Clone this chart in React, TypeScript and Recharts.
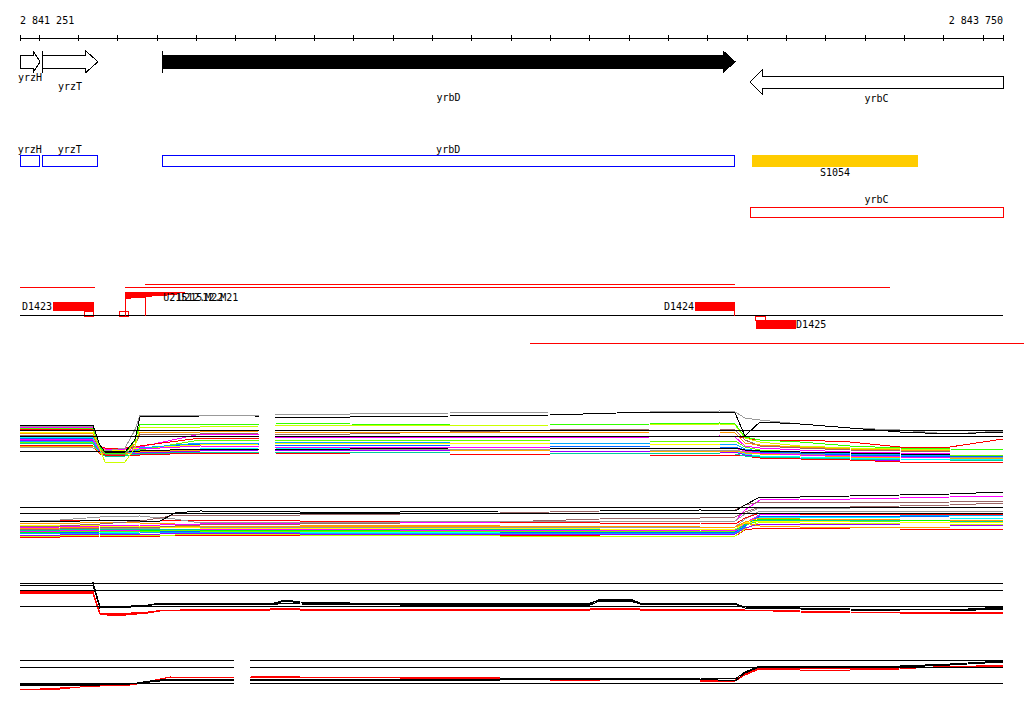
import React from 'react';
import {
  ComposedChart,
  XAxis,
  YAxis,
  Line,
  Area,
  ReferenceArea,
  ReferenceLine,
  ReferenceDot,
} from 'recharts';

// ---------- view window (genome coordinates, bp) ----------
const VIEW_START = 2841251;
const VIEW_END = 2843750;
const AXIS_TICKS = [
  2841251, 2841300, 2841400, 2841500, 2841600, 2841700, 2841800, 2841900, 2842000,
  2842100, 2842200, 2842300, 2842400, 2842500, 2842600, 2842700, 2842800, 2842900,
  2843000, 2843100, 2843200, 2843300, 2843400, 2843500, 2843600, 2843700, 2843750,
];

// ---------- track 1 : genes ----------
const GENES = [
  { name: 'yrzH', start: 2841251, end: 2841302, strand: 1 },
  { name: 'yrzT', start: 2841307, end: 2841449, strand: 1 },
  { name: 'yrbD', start: 2841612, end: 2843069, strand: 1 },
  { name: 'yrbC', start: 2843107, end: 2843750, strand: -1 },
];
const HIGHLIGHTED_GENE = 'yrbD';

// ---------- track 2/3 : annotation boxes ----------
const CDS_BOXES = [
  { name: 'yrzH', start: 2841251, end: 2841301 },
  { name: 'yrzT', start: 2841307, end: 2841448 },
  { name: 'yrbD', start: 2841612, end: 2843067 },
];
const SITES = [{ name: 'S1054', start: 2843112, end: 2843534 }];
const OPERONS = [{ name: 'yrbC', start: 2843107, end: 2843750 }];

// ---------- track 4 : tiling / segments ----------
const READ_SPANS = [
  { start: 2841251, end: 2841442, row: 'r287' },
  { start: 2841518, end: 2843463, row: 'r287' },
  { start: 2841569, end: 2843069, row: 'r284' },
  { start: 2842547, end: 2843803, row: 'r343' },
];
const SEGMENTS = [
  { name: 'D1423', start: 2841335, end: 2841439, side: 'left', row: 'up' },
  { name: 'D1424', start: 2842967, end: 2843069, side: 'left', row: 'up' },
  { name: 'D1425', start: 2843122, end: 2843224, side: 'right', row: 'down' },
];
const SMALL_MARKS = [
  { start: 2841416, end: 2841439, row: 'up' },
  { start: 2841505, end: 2841526, row: 'up' },
  { start: 2843120, end: 2843145, row: 'down' },
];
const TICK_MARKS = [
  { at: 2841518, row: 'tall' },
  { at: 2841569, row: 'mid' },
  { at: 2843068, row: 'short' },
];
const WEDGE_POS = [2841518, 2841533, 2841569, 2841587, 2841625, 2841650, 2841670];
const WEDGE_LOW = [299, 298, 297, 296, 295, 293, 292];
const WEDGE_HIGH = [292, 292, 292, 292, 292, 292, 292];
const PROBE_LABELS = [
  { name: 'U21512.M22', at: 2841615 },
  { name: 'U21512.M21', at: 2841653 },
];

// ---------- expression tracks ----------
const N = null;

const T5_POS = [
  2841251, 2841437, 2841454, 2841467, 2841518, 2841543, 2841556, 2841709, 2841858, 2841878,
  2841899, 2842090, 2842344, 2842598, 2842853, 2843031, 2843069, 2843094, 2843132, 2843234,
  2843361, 2843488, 2843615, 2843750,
];
const T5_VALUES: (number | null)[][] = [
  [438, 439, 451, 452, 452, 450, 449, 444, 445, N, 445, 445, 446, 446, 447, 447, 447, 450, 452, 453, 455, 456, 457, 456],
  [437, 438, 452, 454, 454, 452, 452, 449, 448, N, 448, 449, 450, 451, 451, 452, 452, 454, 456, 457, 458, 459, 460, 459],
  [440, 441, 452, 454, 454, 453, 453, 451, 450, N, 450, 450, 451, 451, 452, 452, 452, 455, 457, 458, 460, 461, 461, 460],
  [432, 433, 448, 450, 450, 448, 448, 445, 444, N, 443, 443, 443, 444, 444, 444, 444, 449, 451, 452, 453, 454, 455, 455],
  [442, 443, 452, 455, 455, 451, 450, 440, 440, N, 440, 440, 440, 441, 441, 441, 441, 447, 450, 452, 454, 455, 455, 455],
  [447, 448, 452, 452, 452, 452, 452, 450, 449, N, 449, 449, 449, 450, 450, 450, 450, 452, 453, 454, 456, 457, 457, 457],
  [445, 446, 454, 455, 455, 455, 455, 453, 453, N, 453, 454, 454, 455, 455, 455, 455, 456, 458, 459, 460, 462, 462, 462],
  [443, 444, 453, 456, 456, 454, 454, 452, 452, N, 452, 452, 453, 453, 453, 454, 454, 456, 457, 458, 459, 460, 460, 460],
  [446, 446, 453, 454, 454, 452, 452, 450, 449, N, 449, 450, 450, 451, 451, 451, 451, 453, 454, 455, 457, 458, 458, 458],
  [439, 440, 451, 453, 453, 449, 449, 446, 447, N, 447, 447, 447, 448, 448, 448, 448, 451, 453, 455, 456, 457, 458, 458],
  [441, 442, 452, 453, 453, 452, 448, 443, 443, N, 442, 442, 443, 443, 444, 444, 444, 449, 451, 452, 454, 455, 456, 456],
  [451, 451, 452, 451, 451, 451, 451, 449, 449, N, 449, 449, 448, 448, 448, 448, 448, 450, 451, 452, 453, 454, 455, 455],
  [427, 428, 448, 449, 449, 447, 447, 434, 434, N, 437, 437, 437, 438, 437, 436, 437, 446, 448, 450, 452, 453, 454, 454],
  [429, 430, 447, 448, 448, 447, 446, 438, 438, N, 436, 436, 436, 436, 436, 436, 436, 438, 440, 440, 442, 447, 447, 439],
  [435, 436, 450, 454, 454, 446, 434, 434, 433, N, 434, 434, 432, 430, 429, 429, 430, 440, 446, 448, 450, 451, 452, 452],
  [433, 434, 450, 452, 452, 444, 432, 432, 431, N, 432, 432, 432, 433, 432, 432, 433, 443, 445, 447, 449, 450, 451, 451],
  [430, 431, 449, 462, 462, 448, 427, 427, 426, N, 425, 425, 426, 425, 425, 424, 425, 438, 442, 446, 448, 449, 450, 450],
  [428, 429, 447, 453, 453, 441, 424, 424, 424, N, 423, 424, 425, 425, 424, 423, 424, 437, 440, 442, 446, 448, 449, 450],
  [426, 427, 446, 451, 448, 430, 415, 415, 415, N, 414, 414, 413, 412, 412, 411, 412, 418, 420, 424, 428, 430, 434, 431],
  [425, 426, 445, 452, 452, 440, 417, 416, 416, N, 417, 417, 416, 415, 412, 412, 413, 436, 422, 424, 428, 432, 434, 432],
];
const T5_COLORS = [
  '#0066ff', '#00ffff', '#9900ff', '#ffff00', '#66ff00', '#999999', '#ff0000', '#00cc99', '#ffaa00', '#ff00ff',
  '#00aaff', '#000000', '#ff00ff', '#ff0000', '#996666', '#ff9900', '#ccff00', '#33ff00', '#999999', '#000000',
];
const T5_GAP = [2841858, 2841899];
const T5_GUIDES = [430.5, 436.5];

const T6_POS = [
  2841251, 2841353, 2841454, 2841556, 2841607, 2841645, 2841709, 2841963, 2842217, 2842471,
  2842725, 2842980, 2843069, 2843094, 2843132, 2843234, 2843361, 2843488, 2843615, 2843750,
];
const T6_VALUES: number[][] = [
  [537, 537, 536, 536, 536, 535, 535, 535, 535, 535, 536, 536, 536, 530, 528, 528, 529, 529, 529, 529],
  [536, 536, 535, 535, 535, 535, 534, 535, 535, 536, 536, 536, 536, 529, 522, 523, 523, 524, 524, 524],
  [535, 535, 534, 534, 534, 533, 533, 534, 534, 534, 535, 534, 534, 528, 524, 524, 524, 525, 525, 525],
  [534, 533, 533, 532, 532, 532, 531, 532, 532, 532, 532, 533, 533, 525, 517, 517, 517, 518, 518, 518],
  [533, 533, 532, 531, 531, 531, 532, 531, 531, 532, 532, 532, 532, 526, 516, 516, 516, 517, 516, 516],
  [533, 534, 533, 533, 532, 532, 532, 533, 533, 533, 533, 533, 533, 527, 514, 514, 515, 515, 515, 515],
  [532, 532, 531, 530, 530, 530, 530, 530, 530, 531, 531, 531, 531, 524, 519, 519, 520, 520, 521, 521],
  [532, 531, 531, 531, 531, 530, 531, 531, 531, 531, 531, 531, 531, 525, 521, 521, 521, 522, 522, 522],
  [531, 531, 530, 530, 529, 529, 530, 529, 530, 530, 530, 530, 531, 523, 515, 514, 514, 515, 514, 513],
  [530, 530, 529, 529, 529, 529, 529, 528, 529, 529, 529, 529, 530, 525, 520, 520, 520, 521, 521, 521],
  [529, 529, 528, 528, 528, 527, 527, 527, 527, 527, 527, 527, 527, 519, 511, 511, 511, 511, 511, 511],
  [528, 528, 527, 527, 527, 527, 526, 526, 526, 526, 526, 527, 527, 523, 526, 527, 527, 527, 528, 528],
  [525, 525, 526, 526, 527, 527, 528, 528, 528, 528, 529, 529, 529, 523, 521, 521, 522, 522, 523, 522],
  [523, 524, 522, 523, 523, 524, 524, 525, 525, 526, 526, 527, 527, 522, 518, 519, 519, 520, 520, 520],
  [521, 521, 520, 521, 521, 520, 520, 521, 521, 522, 523, 523, 524, 518, 513, 514, 514, 514, 514, 515],
  [530, 529, 528, 527, 527, 526, 525, 524, 523, 522, 519, 518, 517, 512, 507, 507, 507, 506, 505, 503],
  [528, 527, 526, 525, 525, 524, 524, 523, 522, 522, 521, 521, 521, 510, 500, 499, 499, 498, 497, 496],
  [527, 526, 524, 521, 518, 515, 515, 515, 514, 513, 511, 510, 510, 505, 502, 502, 502, 503, 502, 501],
  [522, 520, 517, 516, 518, 519, 523, 522, 522, 521, 521, 521, 521, 514, 508, 508, 508, 507, 507, 507],
  [521, 522, 520, 521, 521, 513, 511, 512, 512, 511, 511, 510, 511, 505, 497, 497, 496, 495, 494, 492],
];
const T6_COLORS = [
  '#ff0000', '#ccff00', '#9900ff', '#00ffff', '#0066ff', '#00aaff', '#00ff00', '#66ff00', '#ff00ff', '#00cc99',
  '#999999', '#ff9900', '#ffff00', '#ff9900', '#ff0000', '#996666', '#ff00ff', '#996666', '#999999', '#000000',
];
const T6_GUIDES = [507.5, 513.5];

const T7_POS = [
  2841251, 2841437, 2841454, 2841493, 2841576, 2841607, 2841709, 2841887, 2841925, 2841963,
  2842217, 2842471, 2842700, 2842725, 2842802, 2842827, 2843069, 2843094, 2843234, 2843361,
  2843488, 2843615, 2843750,
];
const T7_VALUES: number[][] = [
  [591, 592, 613, 615, 613, 610, 610, 610, 608, 609, 610, 610, 610, 609, 608, 609, 609, 610, 611, 612, 613, 613, 612],
  [593, 594, 614, 616, 613, 611, 610, 610, 609, 610, 610, 610, 610, 609, 609, 610, 610, 610, 612, 613, 613, 614, 613],
  [592, 593, 613, 614, 612, 611, 609, 609, 608, 609, 609, 609, 609, 608, 608, 609, 609, 610, 611, 612, 612, 613, 612],
  [583, 584, 607, 607, 605, 603, 603, 605, 601, 603, 604, 604, 604, 599, 599, 603, 603, 608, 608, 609, 610, 610, 608],
  [585, 586, 608, 607, 605, 604, 604, 605, 603, 604, 605, 605, 605, 601, 601, 604, 604, 608, 609, 610, 611, 611, 609],
  [584, 583, 606, 608, 606, 603, 603, 604, 600, 602, 604, 603, 603, 600, 600, 603, 604, 607, 608, 609, 609, 610, 607],
];
const T7_COLORS = ['#ff0000', '#ff0000', '#ff0000', '#000000', '#000000', '#000000'];
const T7_GUIDES = [583.5, 590.5, 606.5];

const T8_POS = [
  2841251, 2841353, 2841404, 2841454, 2841531, 2841582, 2841632, 2841795, 2841815, 2841836,
  2841963, 2842217, 2842471, 2842725, 2842980, 2843069, 2843094, 2843132, 2843234, 2843361,
  2843488, 2843615, 2843750,
];
const T8_VALUES: (number | null)[][] = [
  [689, 689, 687, 686, 685, 682, 677, 677, N, 676, 677, 677, 678, 680, 680, 680, 674, 668, 668, 669, 668, 667, 665],
  [690, 688, 687, 686, 684, 681, 677, 678, N, 677, 677, 678, 679, 681, 681, 681, 675, 669, 670, 670, 669, 666, 666],
  [684, 684, 684, 684, 684, 681, 679, 679, N, 679, 679, 680, 679, 678, 678, 679, 672, 666, 666, 666, 666, 664, 661],
  [685, 685, 685, 685, 684, 682, 680, 680, N, 680, 680, 680, 680, 679, 679, 681, 673, 667, 667, 667, 667, 665, 662],
];
const T8_COLORS = ['#ff0000', '#ff0000', '#000000', '#000000'];
const T8_GAP = [2841795, 2841836];
const T8_GUIDES = [660.5, 667.5, 683.5];

// ---------- layout (vertical lanes, in chart row units) ----------
const LANES = {
  geneFwd: { y1: 51, y2: 72.5, inset: 4 },
  geneRev: { y1: 70, y2: 94, inset: 6 },
  geneLabel: { yrzH: 77, yrzT: 86, yrbD: 97.5, yrbC: 98 } as Record<string, number>,
  cds: { y1: 155, y2: 166, label: 149 },
  site: { y1: 155, y2: 167, label: 172 },
  operon: { y1: 207.5, y2: 217.5, label: 199 },
  reads: { r287: 287, r284: 284, r343: 343 } as Record<string, number>,
  baseline: 315.5,
  segUp: { y1: 302, y2: 311, label: 306 },
  segDown: { y1: 320, y2: 328.5, label: 324 },
  markUp: { y1: 311, y2: 316 },
  markDown: { y1: 316, y2: 320 },
  ticks: { tall: [292, 316], mid: [296.5, 316], short: [311, 316] } as Record<string, number[]>,
  probeLabel: 297.5,
};

const FONT: React.CSSProperties = {
  fontFamily: '"DejaVu Sans Mono", monospace',
  fontSize: 10,
  fill: '#000',
};

const fmt = (v: number) => String(v).replace(/\B(?=(\d{3})+(?!\d))/g, ' ');

const AxisTick = (props: any) => {
  const { x, y, payload } = props;
  const v = payload.value as number;
  const edge = v === VIEW_START || v === VIEW_END;
  return (
    <g>
      <line x1={x} x2={x} y1={y - 3} y2={y + 3} stroke="#000" />
      {edge && (
        <text x={x} y={y - 14} textAnchor={v === VIEW_START ? 'start' : 'end'} style={FONT}>
          {fmt(v)}
        </text>
      )}
    </g>
  );
};

const textShape = (label: string, anchor: 'start' | 'middle' | 'end', dx = 0) => (p: any) => (
  <text
    x={p.cx + dx}
    y={p.cy}
    textAnchor={anchor}
    dominantBaseline="central"
    style={FONT}
  >
    {label}
  </text>
);

const geneShape = (fill: string, strand: number, inset: number, startBar: boolean) => (p: any) => {
  const { x, y, width, height } = p;
  const head = Math.min(12, width * 0.35);
  const top = y + inset;
  const bot = y + height - inset;
  const mid = y + height / 2;
  let pts: string;
  if (strand > 0) {
    const hx = x + width - head;
    pts = `${x},${top} ${hx},${top} ${hx},${y} ${x + width},${mid} ${hx},${y + height} ${hx},${bot} ${x},${bot}`;
  } else {
    const hx = x + head;
    pts = `${x + width},${top} ${hx},${top} ${hx},${y} ${x},${mid} ${hx},${y + height} ${hx},${bot} ${x + width},${bot}`;
  }
  return (
    <g>
      <polygon points={pts} fill={fill} stroke="#000" strokeWidth={1} />
      {startBar && strand > 0 && <line x1={x} x2={x} y1={y} y2={y + height} stroke="#000" />}
    </g>
  );
};

const toRows = (key: string, pos: number[], vals: (number | null)[]) =>
  pos.map((x, i) => ({ x, [key]: vals[i] }));

const wedgeData = WEDGE_POS.map((x, i) => ({ x, band: [WEDGE_HIGH[i], WEDGE_LOW[i]] }));

const guideSegments = (ys: number[], gap: number[] | null) =>
  ys.flatMap((yv) =>
    gap
      ? [
          [VIEW_START, gap[0], yv],
          [gap[1], VIEW_END, yv],
        ]
      : [[VIEW_START, VIEW_END, yv]]
  );

const profileLines = (
  id: string,
  pos: number[],
  values: (number | null)[][],
  colors: string[]
) =>
  values.map((vals, i) => {
    const key = `${id}_${i}`;
    return (
      <Line
        key={key}
        data={toRows(key, pos, vals)}
        dataKey={key}
        type="linear"
        stroke={colors[i]}
        strokeWidth={1}
        dot={false}
        activeDot={false}
        connectNulls={false}
        isAnimationActive={false}
      />
    );
  });

export default function App() {
  const guides = [
    ...guideSegments(T5_GUIDES, T5_GAP),
    ...guideSegments(T6_GUIDES, null),
    ...guideSegments(T7_GUIDES, null),
    ...guideSegments(T8_GUIDES, T8_GAP),
  ];
  return (
    <div
      style={{
        position: 'absolute',
        left: 0,
        top: 0,
        width: 1024,
        height: 714,
        background: '#fff',
        shapeRendering: 'crispEdges',
      }}
    >
      <ComposedChart width={1024} height={714} margin={{ top: 0, right: 21, bottom: 0, left: 20 }}>
        <XAxis
          xAxisId={0}
          type="number"
          dataKey="x"
          orientation="top"
          domain={[VIEW_START, VIEW_END]}
          allowDataOverflow
          ticks={AXIS_TICKS}
          interval={0}
          height={38}
          tickSize={0}
          tickMargin={0}
          tickLine={false}
          axisLine={{ stroke: '#000' }}
          tick={<AxisTick />}
        />
        <YAxis yAxisId={0} hide type="number" domain={[38, 714]} reversed allowDataOverflow />

        {/* track 1: genes */}
        {GENES.map((g) => {
          const lane = g.strand > 0 ? LANES.geneFwd : LANES.geneRev;
          return (
            <ReferenceArea
              key={`gene-${g.name}`}
              x1={g.start}
              x2={g.end}
              y1={lane.y1}
              y2={lane.y2}
              ifOverflow="visible"
              shape={geneShape(
                g.name === HIGHLIGHTED_GENE ? '#000' : '#fff',
                g.strand,
                lane.inset,
                g.start > VIEW_START
              )}
            />
          );
        })}
        {GENES.map((g) => (
          <ReferenceDot
            key={`gl-${g.name}`}
            x={(g.start + g.end) / 2}
            y={LANES.geneLabel[g.name]}
            r={0}
            ifOverflow="visible"
            shape={textShape(g.name, 'middle')}
          />
        ))}

        {/* track 2: CDS boxes and site */}
        {CDS_BOXES.map((b) => (
          <ReferenceArea
            key={`cds-${b.name}`}
            x1={b.start}
            x2={b.end}
            y1={LANES.cds.y1}
            y2={LANES.cds.y2}
            ifOverflow="visible"
            fill="none"
            stroke="#0000ff"
            strokeWidth={1}
          />
        ))}
        {CDS_BOXES.map((b) => (
          <ReferenceDot
            key={`cdsl-${b.name}`}
            x={(b.start + b.end) / 2}
            y={LANES.cds.label}
            r={0}
            ifOverflow="visible"
            shape={textShape(b.name, 'middle')}
          />
        ))}
        {SITES.map((s) => (
          <ReferenceArea
            key={`site-${s.name}`}
            x1={s.start}
            x2={s.end}
            y1={LANES.site.y1}
            y2={LANES.site.y2}
            ifOverflow="visible"
            fill="#ffcc00"
            fillOpacity={1}
            stroke="none"
          />
        ))}
        {SITES.map((s) => (
          <ReferenceDot
            key={`sitel-${s.name}`}
            x={(s.start + s.end) / 2}
            y={LANES.site.label}
            r={0}
            ifOverflow="visible"
            shape={textShape(s.name, 'middle')}
          />
        ))}
        {OPERONS.map((o) => (
          <ReferenceArea
            key={`op-${o.name}`}
            x1={o.start}
            x2={o.end}
            y1={LANES.operon.y1}
            y2={LANES.operon.y2}
            ifOverflow="visible"
            fill="none"
            stroke="#ff0000"
            strokeWidth={1}
          />
        ))}
        {OPERONS.map((o) => (
          <ReferenceDot
            key={`opl-${o.name}`}
            x={(o.start + o.end) / 2}
            y={LANES.operon.label}
            r={0}
            ifOverflow="visible"
            shape={textShape(o.name, 'middle')}
          />
        ))}

        {/* track 4: segments */}
        {READ_SPANS.map((r, i) => (
          <ReferenceLine
            key={`read-${i}`}
            segment={[
              { x: r.start, y: LANES.reads[r.row] },
              { x: r.end, y: LANES.reads[r.row] },
            ]}
            stroke="#ff0000"
            strokeWidth={1}
            ifOverflow="visible"
          />
        ))}
        <ReferenceLine
          segment={[
            { x: VIEW_START, y: LANES.baseline },
            { x: VIEW_END, y: LANES.baseline },
          ]}
          stroke="#000"
          strokeWidth={1}
          ifOverflow="visible"
        />
        <Area
          data={wedgeData}
          dataKey="band"
          type="stepAfter"
          fill="#ff0000"
          fillOpacity={1}
          stroke="none"
          dot={false}
          activeDot={false}
          isAnimationActive={false}
        />
        {TICK_MARKS.map((t, i) => (
          <ReferenceLine
            key={`tm-${i}`}
            segment={[
              { x: t.at, y: LANES.ticks[t.row][0] },
              { x: t.at, y: LANES.ticks[t.row][1] },
            ]}
            stroke="#ff0000"
            strokeWidth={1}
            ifOverflow="visible"
          />
        ))}
        {SMALL_MARKS.map((m, i) => {
          const lane = m.row === 'up' ? LANES.markUp : LANES.markDown;
          return (
            <ReferenceArea
              key={`sm-${i}`}
              x1={m.start}
              x2={m.end}
              y1={lane.y1}
              y2={lane.y2}
              ifOverflow="visible"
              fill="#fff"
              fillOpacity={1}
              stroke="#ff0000"
              strokeWidth={1}
            />
          );
        })}
        {SEGMENTS.map((s) => {
          const lane = s.row === 'up' ? LANES.segUp : LANES.segDown;
          return (
            <ReferenceArea
              key={`seg-${s.name}`}
              x1={s.start}
              x2={s.end}
              y1={lane.y1}
              y2={lane.y2}
              ifOverflow="visible"
              fill="#ff0000"
              fillOpacity={1}
              stroke="none"
            />
          );
        })}
        {SEGMENTS.map((s) => {
          const lane = s.row === 'up' ? LANES.segUp : LANES.segDown;
          return (
            <ReferenceDot
              key={`segl-${s.name}`}
              x={s.side === 'left' ? s.start : s.end}
              y={lane.label}
              r={0}
              ifOverflow="visible"
              shape={textShape(s.name, s.side === 'left' ? 'end' : 'start', s.side === 'left' ? -1 : 0)}
            />
          );
        })}
        {PROBE_LABELS.map((p) => (
          <ReferenceDot
            key={`pl-${p.name}`}
            x={p.at}
            y={LANES.probeLabel}
            r={0}
            ifOverflow="visible"
            shape={textShape(p.name, 'start')}
          />
        ))}

        {/* expression profiles */}
        {profileLines('t5', T5_POS, T5_VALUES, T5_COLORS)}
        {profileLines('t6', T6_POS, T6_VALUES, T6_COLORS)}
        {profileLines('t7', T7_POS, T7_VALUES, T7_COLORS)}
        {profileLines('t8', T8_POS, T8_VALUES, T8_COLORS)}

        {guides.map((g, i) => (
          <ReferenceLine
            key={`guide-${i}`}
            segment={[
              { x: g[0], y: g[2] },
              { x: g[1], y: g[2] },
            ]}
            stroke="#000"
            strokeWidth={1}
            ifOverflow="visible"
          />
        ))}
      </ComposedChart>
    </div>
  );
}
